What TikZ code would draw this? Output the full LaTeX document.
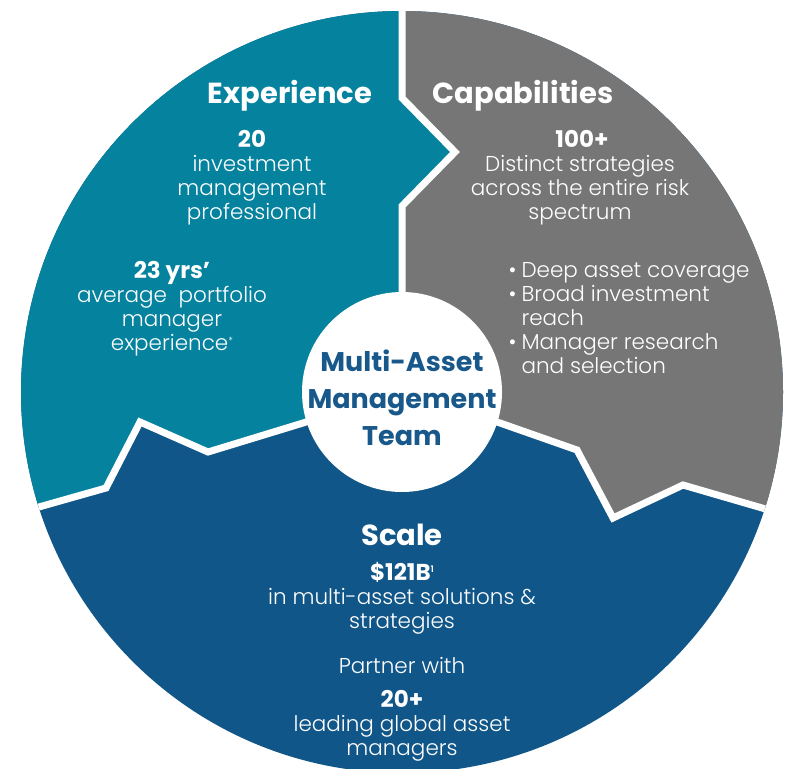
\documentclass[tikz,border=0pt]{standalone}
\usepackage{fontspec}
\setmainfont{Poppins}
\newfontfamily\lightfont{Poppins Light}

\definecolor{expteal}{RGB}{5,130,158}
\definecolor{capgray}{RGB}{118,118,118}
\definecolor{scaleblue}{RGB}{16,86,136}
\definecolor{teamblue}{RGB}{24,88,138}

\begin{document}
\begin{tikzpicture}[x=1pt,y=-1pt,
  title/.style={font=\bfseries\fontsize{29}{30}\selectfont, text=white, anchor=base},
  num/.style={font=\bfseries\fontsize{23}{24}\selectfont, text=white, anchor=base},
  body/.style={font=\lightfont\fontsize{21.5}{24}\selectfont, text=white, align=center, anchor=base},
  gap/.style={draw=white, line width=7pt, miter limit=10}]
\useasboundingbox (0,0) rectangle (792,768);

% centre and outline points
\coordinate (c) at (402,392);
\coordinate (t0) at (402,-20);
\coordinate (t1) at (402,98);
\coordinate (t2) at (455,152);
\coordinate (t3) at (402,206);
\coordinate (l1) at (303,423);
\coordinate (l2) at (208,452);
\coordinate (l3) at (140,422);
\coordinate (l4) at (106,488);
\coordinate (l5) at (0,518);
\coordinate (r1) at (500,423);
\coordinate (r2) at (577,450);
\coordinate (r3) at (613,518);
\coordinate (r4) at (683,485);
\coordinate (r5) at (800,519);

% the three parts
\begin{scope}
  \clip (c) circle [radius=381pt];
  \fill[scaleblue] (c) circle [radius=400pt];
  \fill[expteal] (t0) -- (t1) -- (t2) -- (t3) -- (c) -- (l1) -- (l2) -- (l3) -- (l4) -- (l5) -- (0,-20) -- cycle;
  \fill[capgray] (t0) -- (t1) -- (t2) -- (t3) -- (c) -- (r1) -- (r2) -- (r3) -- (r4) -- (r5) -- (800,-20) -- cycle;
  % white gaps
  \draw[gap] (t0) -- (t1) -- (t2) -- (t3) -- (c);
  \draw[gap] (c) -- (l1) -- (l2) -- (l3) -- (l4) -- (l5);
  \draw[gap] (c) -- (r1) -- (r2) -- (r3) -- (r4) -- (r5);
\end{scope}
\fill[white] (c) circle [radius=100pt];

% centre (base = last line)
\node[font=\bfseries\fontsize{27}{37}\selectfont, text=teamblue, align=center, anchor=base] (team) at (402,445)
  {Multi-Asset\\Management\\Team};

% Experience
\node[title] (exp) at (290,103) {Experience};
\node[num] (expnum) at (252,147) {20};
\node[body] (exptxt) at (252,219) {investment\\management\\professional};
\node[num] (yrs) at (172,278) {23 yrs’};
\node[body] (yrstxt) at (172,350) {average~~portfolio\\manager\\experience\raisebox{6pt}{\fontsize{10}{10}\selectfont*}};

% Capabilities
\node[title] (cap) at (523,103) {Capabilities};
\node[num] (capnum) at (582,147) {100+};
\node[body] (captxt) at (580,219) {Distinct strategies\\across the entire risk\\spectrum};
\node[body, align=left, anchor=base west] (bullets) at (505,373)
  {\makebox[13pt][l]{•}Deep asset coverage\\\makebox[13pt][l]{•}Broad investment\\\hspace*{13pt}reach\\\makebox[13pt][l]{•}Manager research\\\hspace*{13pt}and selection};

% Scale
\node[title] (scale) at (402,545) {Scale};
\node[num] (scalenum) at (402,580) {\$121B\raisebox{8pt}{\lightfont\fontsize{9}{9}\selectfont 1}};
\node[body] (scaletxt) at (402,628) {in multi-asset solutions \&\\strategies};
\node[body] (partner) at (402,673) {Partner with};
\node[num] (partnum) at (402,707) {20+};
\node[body] (parttxt) at (402,755) {leading global asset\\managers};
\end{tikzpicture}
\end{document}
